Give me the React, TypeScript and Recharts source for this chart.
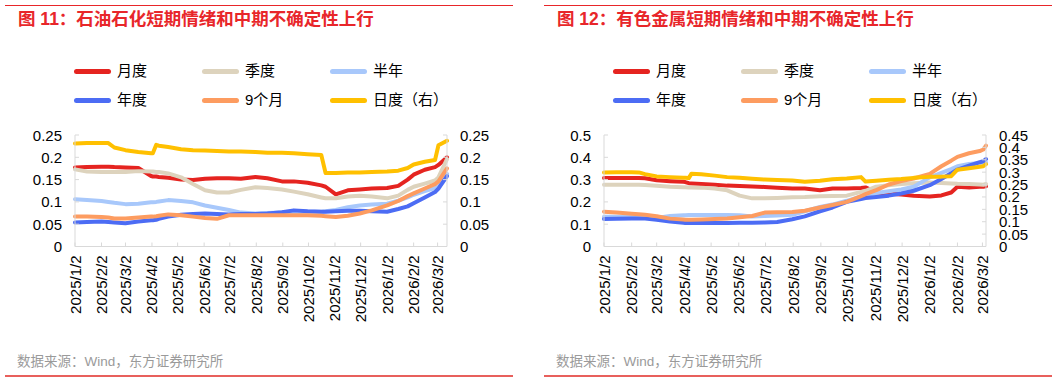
import React from 'react';
import { LineChart, Line, XAxis, YAxis } from 'recharts';

const FONT = '"Liberation Sans", Arial, "Noto Sans CJK SC", sans-serif';
const AXIS_GRAY = '#d9d9d9';
const TITLE_RED = '#e8262a';

// ---- data ----
const datesOil = [
  '2025/1/2', '2025/1/16', '2025/2/2', '2025/2/10', '2025/2/17', '2025/3/2', '2025/3/17',
  '2025/4/1', '2025/4/3', '2025/4/7', '2025/4/10', '2025/4/21', '2025/5/6', '2025/5/20',
  '2025/6/3', '2025/6/17', '2025/7/1', '2025/7/15', '2025/8/1', '2025/8/15', '2025/9/1',
  '2025/9/15', '2025/10/1', '2025/10/17', '2025/10/22', '2025/11/3', '2025/11/17', '2025/12/1',
  '2025/12/15', '2026/1/2', '2026/1/15', '2026/1/26', '2026/2/2', '2026/2/15', '2026/2/27',
  '2026/3/3', '2026/3/13',
];
const datesMetal = [
  '2025/1/2', '2025/1/16', '2025/2/2', '2025/2/10', '2025/2/17', '2025/3/2', '2025/3/17',
  '2025/4/1', '2025/4/3', '2025/4/7', '2025/4/10', '2025/4/21', '2025/5/6', '2025/5/20',
  '2025/6/3', '2025/6/17', '2025/7/1', '2025/7/15', '2025/8/1', '2025/8/15', '2025/9/1',
  '2025/9/15', '2025/10/1', '2025/10/17', '2025/10/22', '2025/11/3', '2025/11/17', '2025/12/1',
  '2025/12/15', '2026/1/2', '2026/1/15', '2026/1/26', '2026/2/2', '2026/2/15', '2026/2/27',
  '2026/3/3', '2026/3/6',
];

const monthTicks = [
  '2025/1/2', '2025/2/2', '2025/3/2', '2025/4/2', '2025/5/2', '2025/6/2', '2025/7/2', '2025/8/2',
  '2025/9/2', '2025/10/2', '2025/11/2', '2025/12/2', '2026/1/2', '2026/2/2', '2026/3/2',
];

// 石油石化
const oilMonthly = [0.177, 0.178, 0.179, 0.179, 0.178, 0.177, 0.176, 0.158, 0.157, 0.157, 0.156, 0.154, 0.15, 0.149, 0.152, 0.153, 0.153, 0.152, 0.156, 0.153, 0.146, 0.146, 0.143, 0.137, 0.134, 0.117, 0.126, 0.128, 0.13, 0.131, 0.136, 0.15, 0.161, 0.172, 0.178, 0.183, 0.2];
const oilQuarter = [0.173, 0.168, 0.167, 0.167, 0.167, 0.167, 0.169, 0.168, 0.168, 0.167, 0.167, 0.164, 0.155, 0.14, 0.126, 0.121, 0.121, 0.127, 0.133, 0.131, 0.128, 0.123, 0.117, 0.11, 0.108, 0.108, 0.112, 0.114, 0.112, 0.108, 0.114, 0.127, 0.134, 0.141, 0.148, 0.155, 0.196];
const oilHalf = [0.106, 0.104, 0.102, 0.1, 0.098, 0.095, 0.096, 0.099, 0.099, 0.1, 0.101, 0.104, 0.102, 0.099, 0.092, 0.087, 0.082, 0.076, 0.074, 0.075, 0.076, 0.077, 0.078, 0.078, 0.079, 0.082, 0.088, 0.092, 0.094, 0.096, 0.103, 0.11, 0.116, 0.124, 0.131, 0.135, 0.163];
const oilYear = [0.054, 0.055, 0.056, 0.055, 0.054, 0.052, 0.056, 0.059, 0.059, 0.06, 0.062, 0.067, 0.071, 0.073, 0.074, 0.073, 0.072, 0.073, 0.073, 0.074, 0.077, 0.081, 0.079, 0.078, 0.078, 0.079, 0.08, 0.08, 0.079, 0.078, 0.084, 0.09, 0.097, 0.11, 0.122, 0.13, 0.158];
const oilNine = [0.067, 0.067, 0.066, 0.065, 0.063, 0.063, 0.065, 0.067, 0.067, 0.068, 0.069, 0.072, 0.07, 0.067, 0.064, 0.062, 0.07, 0.07, 0.07, 0.07, 0.07, 0.07, 0.07, 0.069, 0.068, 0.066, 0.069, 0.074, 0.081, 0.092, 0.102, 0.113, 0.119, 0.13, 0.14, 0.146, 0.175];
const oilDaily = [0.231, 0.232, 0.232, 0.232, 0.222, 0.216, 0.212, 0.209, 0.209, 0.228, 0.226, 0.223, 0.218, 0.216, 0.215, 0.214, 0.213, 0.213, 0.212, 0.21, 0.21, 0.209, 0.207, 0.205, 0.165, 0.165, 0.166, 0.166, 0.167, 0.168, 0.17, 0.176, 0.184, 0.19, 0.194, 0.227, 0.237];

// 有色金属
const metalMonthly = [0.307, 0.307, 0.307, 0.307, 0.306, 0.297, 0.293, 0.29, 0.289, 0.284, 0.283, 0.28, 0.277, 0.273, 0.271, 0.269, 0.267, 0.264, 0.26, 0.26, 0.252, 0.26, 0.26, 0.262, 0.265, 0.243, 0.236, 0.233, 0.228, 0.224, 0.229, 0.242, 0.268, 0.264, 0.268, 0.268, 0.27];
const metalQuarter = [0.277, 0.277, 0.277, 0.277, 0.276, 0.272, 0.268, 0.266, 0.266, 0.265, 0.265, 0.264, 0.26, 0.252, 0.228, 0.216, 0.216, 0.218, 0.221, 0.222, 0.225, 0.226, 0.228, 0.245, 0.25, 0.268, 0.275, 0.28, 0.284, 0.287, 0.285, 0.283, 0.281, 0.28, 0.278, 0.277, 0.28];
const metalHalf = [0.133, 0.133, 0.132, 0.131, 0.13, 0.128, 0.137, 0.14, 0.14, 0.141, 0.141, 0.141, 0.141, 0.141, 0.14, 0.135, 0.137, 0.139, 0.142, 0.158, 0.177, 0.188, 0.205, 0.225, 0.231, 0.24, 0.248, 0.256, 0.268, 0.31, 0.33, 0.347, 0.36, 0.37, 0.375, 0.376, 0.378];
const metalYear = [0.123, 0.124, 0.126, 0.126, 0.125, 0.12, 0.112, 0.106, 0.105, 0.105, 0.105, 0.105, 0.105, 0.105, 0.106, 0.107, 0.108, 0.11, 0.122, 0.135, 0.158, 0.175, 0.2, 0.213, 0.217, 0.222, 0.228, 0.238, 0.25, 0.275, 0.303, 0.328, 0.345, 0.362, 0.378, 0.382, 0.392];
const metalNine = [0.156, 0.152, 0.147, 0.145, 0.142, 0.136, 0.125, 0.121, 0.12, 0.12, 0.12, 0.121, 0.123, 0.126, 0.131, 0.137, 0.152, 0.154, 0.155, 0.16, 0.175, 0.186, 0.2, 0.226, 0.235, 0.253, 0.278, 0.293, 0.305, 0.326, 0.36, 0.385, 0.402, 0.418, 0.428, 0.435, 0.452];
const metalDaily = [0.299, 0.3, 0.3, 0.299, 0.292, 0.283, 0.28, 0.277, 0.277, 0.276, 0.294, 0.292, 0.286, 0.28, 0.277, 0.273, 0.27, 0.268, 0.266, 0.261, 0.265, 0.271, 0.274, 0.28, 0.262, 0.265, 0.269, 0.272, 0.277, 0.281, 0.282, 0.284, 0.31, 0.316, 0.322, 0.324, 0.332];

const oilLeftTicks = [0, 0.05, 0.1, 0.15, 0.2, 0.25];
const oilRightTicks = [0, 0.05, 0.1, 0.15, 0.2, 0.25];
const metalLeftTicks = [0, 0.1, 0.2, 0.3, 0.4, 0.5];
const metalRightTicks = [0, 0.05, 0.1, 0.15, 0.2, 0.25, 0.3, 0.35, 0.4, 0.45];

const seriesMeta = [
  { key: 'm', name: '月度', color: '#e52420' },
  { key: 'q', name: '季度', color: '#ddd3bd' },
  { key: 'h', name: '半年', color: '#a8c8fb' },
  { key: 'y', name: '年度', color: '#4c6cf4' },
  { key: 'n', name: '9个月', color: '#fd9c60' },
  { key: 'd', name: '日度（右）', color: '#ffc000' },
];

const toDay = (s: string) => {
  const [y, m, d] = s.split('/').map(Number);
  return Date.UTC(y, m - 1, d) / 86400000;
};
const fmtDay = (v: number) => {
  const dt = new Date(v * 86400000);
  return `${dt.getUTCFullYear()}/${dt.getUTCMonth() + 1}/${dt.getUTCDate()}`;
};

const buildRows = (dates: string[], cols: number[][]) =>
  dates.map((d, i) => ({
    t: toDay(d),
    m: cols[0][i], q: cols[1][i], h: cols[2][i], y: cols[3][i], n: cols[4][i], d: cols[5][i],
  }));

const oilRows = buildRows(datesOil, [oilMonthly, oilQuarter, oilHalf, oilYear, oilNine, oilDaily]);
const metalRows = buildRows(datesMetal, [metalMonthly, metalQuarter, metalHalf, metalYear, metalNine, metalDaily]);

// ---- ticks ----
const XTick = (props: any) => {
  const { x, y, payload } = props;
  const ty = y + 9;
  return (
    <g>
      <line x1={x} x2={x} y1={y - 4} y2={y} stroke={AXIS_GRAY} />
      <text x={x} y={ty} transform={`rotate(-90, ${x}, ${ty})`} textAnchor="end"
        dominantBaseline="central" fontSize={15} fill="#000" fontFamily={FONT}>
        {fmtDay(payload.value)}
      </text>
    </g>
  );
};

const YTickLeft = (props: any) => {
  const { x, y, payload } = props;
  return (
    <g>
      <line x1={x} x2={x + 4} y1={y} y2={y} stroke={AXIS_GRAY} />
      <text x={x - 13} y={y} textAnchor="end" dominantBaseline="central"
        fontSize={15} fill="#000" fontFamily={FONT}>{payload.value}</text>
    </g>
  );
};

const YTickRight = (props: any) => {
  const { x, y, payload } = props;
  return (
    <g>
      <line x1={x} x2={x - 4} y1={y} y2={y} stroke={AXIS_GRAY} />
      <text x={x + 13} y={y} textAnchor="start" dominantBaseline="central"
        fontSize={15} fill="#000" fontFamily={FONT}>{payload.value}</text>
    </g>
  );
};

// ---- panel ----
interface PanelProps {
  left: number;
  width: number;
  title: string;
  titleX: number;
  legendX: number;
  sourceX: number;
  lineX1: number;
  lineX2: number;
  rows: any[];
  leftDomain: [number, number];
  leftTicks: number[];
  rightDomain: [number, number];
  rightTicks: number[];
  leftAxisW: number;
  rightAxisW: number;
  rightMargin: number;
}

function Panel(p: PanelProps) {
  return (
    <div style={{ position: 'absolute', left: p.left, top: 0, width: p.width, height: 381 }}>
      <div style={{ position: 'absolute', left: p.lineX1, top: 5, width: p.lineX2 - p.lineX1, height: 1, background: TITLE_RED }} />
      <div style={{
        position: 'absolute', left: p.titleX, top: 9, lineHeight: '21px', fontSize: 17.5,
        fontWeight: 'bold', color: TITLE_RED, whiteSpace: 'nowrap',
      }}>{p.title}</div>

      {seriesMeta.map((s, i) => {
        const col = i % 3;
        const row = Math.floor(i / 3);
        return (
          <div key={s.key} style={{
            position: 'absolute', left: p.legendX + col * 128, top: (row === 0 ? 71 : 100) - 10,
            height: 20, display: 'flex', alignItems: 'center', whiteSpace: 'nowrap',
          }}>
            <div style={{ width: 37, height: 5, borderRadius: 3, background: s.color }} />
            <span style={{ marginLeft: 6, fontSize: 15, lineHeight: '20px', color: '#000' }}>{s.name}</span>
          </div>
        );
      })}

      <div style={{ position: 'absolute', left: 0, top: 0 }}>
        <LineChart width={p.width} height={340} data={p.rows}
          margin={{ top: 135, right: p.rightMargin, bottom: 0, left: 0 }}>
          <XAxis dataKey="t" type="number" domain={['dataMin', 'dataMax']}
            ticks={monthTicks.map(toDay)} interval={0} height={93.5}
            axisLine={{ stroke: AXIS_GRAY }} tickLine={false} tickSize={0} tickMargin={0}
            tick={<XTick />} />
          <YAxis yAxisId="left" orientation="left" domain={p.leftDomain} ticks={p.leftTicks}
            interval={0} width={p.leftAxisW} axisLine={{ stroke: AXIS_GRAY }} tickLine={false}
            tickSize={0} tickMargin={0} tick={<YTickLeft />} allowDataOverflow />
          <YAxis yAxisId="right" orientation="right" domain={p.rightDomain} ticks={p.rightTicks}
            interval={0} width={p.rightAxisW} axisLine={{ stroke: AXIS_GRAY }} tickLine={false}
            tickSize={0} tickMargin={0} tick={<YTickRight />} allowDataOverflow />
          {seriesMeta.map((s) => (
            <Line key={s.key} yAxisId={s.key === 'd' ? 'right' : 'left'} type="linear"
              dataKey={s.key} stroke={s.color} strokeWidth={4} dot={false} activeDot={false}
              isAnimationActive={false} strokeLinejoin="round" strokeLinecap="round" />
          ))}
        </LineChart>
      </div>

      <div style={{
        position: 'absolute', left: p.sourceX, top: 353, lineHeight: '18px', fontSize: 13.5,
        color: '#9a9a9a', whiteSpace: 'nowrap',
      }}>数据来源：Wind，东方证券研究所</div>
      <div style={{ position: 'absolute', left: p.lineX1, top: 375, width: p.lineX2 - p.lineX1, height: 2, background: '#e8605c' }} />
    </div>
  );
}

export default function App() {
  return (
    <div style={{
      position: 'absolute', left: 0, top: 0, width: 1061, height: 381, background: '#fff',
      overflow: 'hidden', fontFamily: FONT,
    }}>
      <Panel left={0} width={530} title="图 11：石油石化短期情绪和中期不确定性上行" titleX={18}
        legendX={74} sourceX={17} lineX1={5} lineX2={513} rows={oilRows}
        leftDomain={[0, 0.25]} leftTicks={oilLeftTicks} rightDomain={[0, 0.25]} rightTicks={oilRightTicks}
        leftAxisW={75} rightAxisW={60} rightMargin={23} />
      <Panel left={530} width={531} title="图 12：有色金属短期情绪和中期不确定性上行" titleX={27}
        legendX={83} sourceX={26} lineX1={14} lineX2={522} rows={metalRows}
        leftDomain={[0, 0.5]} leftTicks={metalLeftTicks} rightDomain={[0, 0.45]} rightTicks={metalRightTicks}
        leftAxisW={74} rightAxisW={56} rightMargin={19} />
    </div>
  );
}
